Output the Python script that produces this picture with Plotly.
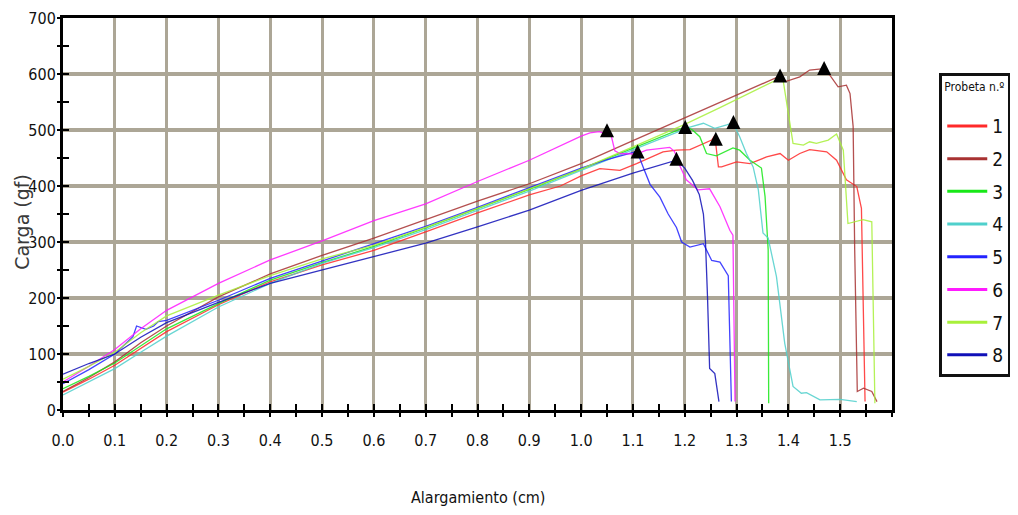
import plotly.graph_objects as go

# ---------------- data ----------------
SERIES_NAMES = ["1", "2", "3", "4", "5", "6", "7", "8"]
COLORS = ["#ff2a2a", "#a83232", "#18e818", "#4fd0cc", "#2323ff", "#ff1aff", "#a8f03a", "#1010b8"]

x1 = [0, 0.05, 0.1, 0.15, 0.2, 0.3, 0.4, 0.5, 0.6, 0.7, 0.8, 0.9, 0.96, 1.0, 1.036, 1.075, 1.107, 1.158, 1.184, 1.21, 1.229, 1.252, 1.258, 1.265, 1.271, 1.3, 1.326, 1.358, 1.384, 1.4, 1.422, 1.441, 1.474, 1.493, 1.512, 1.532, 1.541, 1.548]
y1 = [32, 55, 80, 110, 140, 188, 229, 259, 285, 318, 352, 384, 400, 418, 431, 428, 440, 461, 464, 465, 473, 482, 490, 434, 434, 443, 440, 452, 458, 446, 458, 465, 461, 446, 411, 399, 360, 15]

x2 = [0, 0.05, 0.1, 0.15, 0.2, 0.3, 0.4, 0.5, 0.6, 0.7, 0.8, 0.9, 1.0, 1.1, 1.2, 1.3, 1.383, 1.396, 1.422, 1.441, 1.464, 1.48, 1.496, 1.512, 1.519, 1.525, 1.528, 1.533, 1.545, 1.561, 1.571]
y2 = [33, 58, 86, 120, 150, 202, 243, 276, 307, 340, 373, 404, 440, 481, 522, 562, 596, 587, 595, 607, 609, 598, 577, 580, 565, 506, 286, 33, 39, 33, 15]

x3 = [0, 0.05, 0.1, 0.15, 0.2, 0.3, 0.4, 0.5, 0.6, 0.7, 0.8, 0.9, 1.0, 1.1, 1.203, 1.215, 1.229, 1.242, 1.261, 1.293, 1.306, 1.326, 1.348, 1.355, 1.361, 1.362]
y3 = [38, 60, 84, 115, 145, 190, 232, 263, 292, 325, 359, 394, 430, 468, 506, 500, 488, 458, 454, 468, 464, 446, 432, 381, 286, 12]

x4 = [0, 0.05, 0.1, 0.15, 0.2, 0.3, 0.4, 0.5, 0.6, 0.7, 0.8, 0.9, 1.0, 1.1, 1.177, 1.21, 1.236, 1.258, 1.281, 1.293, 1.306, 1.319, 1.332, 1.342, 1.351, 1.361, 1.377, 1.393, 1.409, 1.425, 1.435, 1.461, 1.5, 1.532]
y4 = [27, 50, 74, 103, 132, 184, 226, 262, 290, 322, 356, 391, 428, 465, 494, 505, 512, 503, 509, 513, 488, 458, 434, 393, 316, 307, 238, 119, 42, 30, 31, 18, 19, 15]

x5 = [0, 0.05, 0.1, 0.135, 0.142, 0.16, 0.175, 0.184, 0.2, 0.3, 0.4, 0.5, 0.6, 0.7, 0.8, 0.9, 1.0, 1.05, 1.1, 1.108, 1.12, 1.133, 1.152, 1.168, 1.184, 1.194, 1.21, 1.236, 1.252, 1.268, 1.284, 1.29]
y5 = [47, 72, 100, 131, 150, 144, 150, 158, 160, 196, 235, 266, 296, 328, 362, 397, 432, 447, 461, 462, 433, 403, 380, 350, 326, 300, 291, 297, 267, 264, 240, 15]

x6 = [0, 0.05, 0.1, 0.15, 0.2, 0.3, 0.4, 0.5, 0.6, 0.7, 0.8, 0.9, 1.0, 1.017, 1.035, 1.049, 1.058, 1.065, 1.075, 1.107, 1.126, 1.171, 1.18, 1.19, 1.203, 1.226, 1.248, 1.268, 1.287, 1.293, 1.297]
y6 = [50, 78, 108, 145, 178, 226, 268, 302, 338, 368, 408, 446, 489, 495, 497, 493, 490, 463, 458, 457, 464, 469, 462, 437, 411, 393, 395, 363, 321, 312, 15]

x7 = [0, 0.05, 0.1, 0.15, 0.2, 0.3, 0.4, 0.5, 0.6, 0.7, 0.8, 0.9, 1.0, 1.1, 1.2, 1.268, 1.383, 1.39, 1.403, 1.409, 1.429, 1.441, 1.454, 1.477, 1.493, 1.506, 1.515, 1.544, 1.561, 1.567]
y7 = [55, 78, 103, 138, 168, 205, 240, 270, 294, 326, 360, 395, 430, 470, 510, 540, 592, 588, 506, 476, 473, 479, 476, 482, 493, 464, 333, 340, 336, 12]

x8 = [0, 0.05, 0.1, 0.15, 0.2, 0.3, 0.4, 0.5, 0.6, 0.7, 0.8, 0.9, 1.0, 1.1, 1.184, 1.2, 1.215, 1.228, 1.236, 1.24, 1.244, 1.248, 1.258, 1.266]
y8 = [64, 83, 100, 130, 156, 192, 226, 250, 275, 298, 327, 357, 392, 423, 446, 432, 410, 385, 350, 300, 200, 74, 65, 15]

# rupture markers (black triangles)
peak_x = [1.050, 1.109, 1.201, 1.184, 1.260, 1.294, 1.384, 1.469]
peak_y = [512, 474, 518, 461, 497, 527, 610, 623]

X_TICKS = [0.0, 0.1, 0.2, 0.3, 0.4, 0.5, 0.6, 0.7, 0.8, 0.9, 1.0, 1.1, 1.2, 1.3, 1.4, 1.5]
X_TICK_TEXT = ["0.0", "0.1", "0.2", "0.3", "0.4", "0.5", "0.6", "0.7", "0.8", "0.9", "1.0", "1.1", "1.2", "1.3", "1.4", "1.5"]
Y_TICKS = [0, 100, 200, 300, 400, 500, 600, 700]

X_TITLE = "Alargamiento (cm)"
Y_TITLE = "Carga (gf)"
LEGEND_TITLE = "Probeta n.º"

XS = [x1, x2, x3, x4, x5, x6, x7, x8]
YS = [y1, y2, y3, y4, y5, y6, y7, y8]

NARROW = "DejaVu Sans Condensed, Liberation Sans Narrow, sans-serif"
GRID = "#aca696"

fig = go.Figure()

for name, col, xs, ys in zip(SERIES_NAMES, COLORS, XS, YS):
    fig.add_trace(go.Scatter(x=xs, y=ys, mode="lines", name=name, showlegend=False,
                             line=dict(color=col, width=1.3), opacity=0.85,
                             xaxis="x", yaxis="y"))

fig.add_trace(go.Scatter(x=peak_x, y=peak_y, mode="markers", showlegend=False,
                         marker=dict(symbol="arrow-up", size=14, color="black",
                                     line=dict(width=0))))

# legend-only entries (thicker sample lines)
for name, col in zip(SERIES_NAMES, COLORS):
    fig.add_trace(go.Scatter(x=[None], y=[None], mode="lines", name=name,
                             legendgroup=name, showlegend=True,
                             line=dict(color=col, width=3)))

# overlay axes for outward tick marks
fig.add_trace(go.Scatter(x=[None], y=[None], xaxis="x2", yaxis="y2", showlegend=False))

tickfont = dict(family=NARROW, size=16, color="#111111")

# the page body adds an 8 px offset; figure size and margins compensate for it
fig.update_layout(
    width=1010, height=507,
    margin=dict(l=55, r=126, t=10, b=105, autoexpand=False),
    paper_bgcolor="white", plot_bgcolor="white",
    xaxis=dict(range=[0, 1.6], tickmode="array", tickvals=X_TICKS, ticktext=X_TICK_TEXT,
               showgrid=True, gridcolor=GRID, gridwidth=2.5, automargin=False,
               showline=True, linecolor="black", linewidth=3, mirror=True,
               ticks="inside", ticklen=6, tickwidth=2, tickcolor="black",
               minor=dict(dtick=0.05, tick0=0, ticks="inside", ticklen=6, tickwidth=2,
                          tickcolor="black", showgrid=False),
               tickfont=tickfont, ticklabelstandoff=14, zeroline=False),
    yaxis=dict(range=[0, 700], tickmode="array", tickvals=Y_TICKS,
               showgrid=True, gridcolor=GRID, gridwidth=3.5, automargin=False,
               showline=True, linecolor="black", linewidth=3, mirror=True,
               ticks="inside", ticklen=6, tickwidth=2, tickcolor="black",
               minor=dict(dtick=50, tick0=0, ticks="inside", ticklen=6, tickwidth=2,
                          tickcolor="black", showgrid=False),
               tickfont=tickfont, ticklabelstandoff=1, zeroline=False),
    xaxis2=dict(range=[0, 1.6], overlaying="x", anchor="y", side="bottom", automargin=False,
                tickmode="array", tickvals=X_TICKS, showticklabels=False,
                ticks="outside", ticklen=6, tickwidth=2, tickcolor="black",
                minor=dict(dtick=0.05, tick0=0, ticks="outside", ticklen=6, tickwidth=2,
                           tickcolor="black", showgrid=False),
                showgrid=False, showline=False, zeroline=False),
    yaxis2=dict(range=[0, 700], overlaying="y", anchor="x", side="left", automargin=False,
                tickmode="array", tickvals=Y_TICKS, showticklabels=False,
                ticks="outside", ticklen=5, tickwidth=2, tickcolor="black",
                minor=dict(dtick=50, tick0=0, ticks="outside", ticklen=5, tickwidth=2,
                           tickcolor="black", showgrid=False),
                showgrid=False, showline=False, zeroline=False),
    legend=dict(x=1.057, y=0.86, xanchor="left", yanchor="top",
                bordercolor="#111111", borderwidth=3, bgcolor="white",
                title=dict(text=LEGEND_TITLE + "<br>\u00a0",
                           font=dict(family=NARROW, size=12, color="#111")),
                font=dict(family=NARROW, size=19, color="#111"),
                tracegroupgap=5, itemwidth=40),
    annotations=[
        dict(text=X_TITLE, xref="paper", yref="paper", x=0.5, y=-0.222,
             xanchor="center", yanchor="middle", showarrow=False,
             font=dict(family=NARROW, size=16, color="#111")),
        dict(text=Y_TITLE, xref="paper", yref="paper", x=-0.0495, y=0.48,
             xanchor="center", yanchor="middle", showarrow=False, textangle=-90,
             font=dict(family="DejaVu Sans", size=19, color="#3a3a3a")),
    ],
)

fig.write_html("out.html")
